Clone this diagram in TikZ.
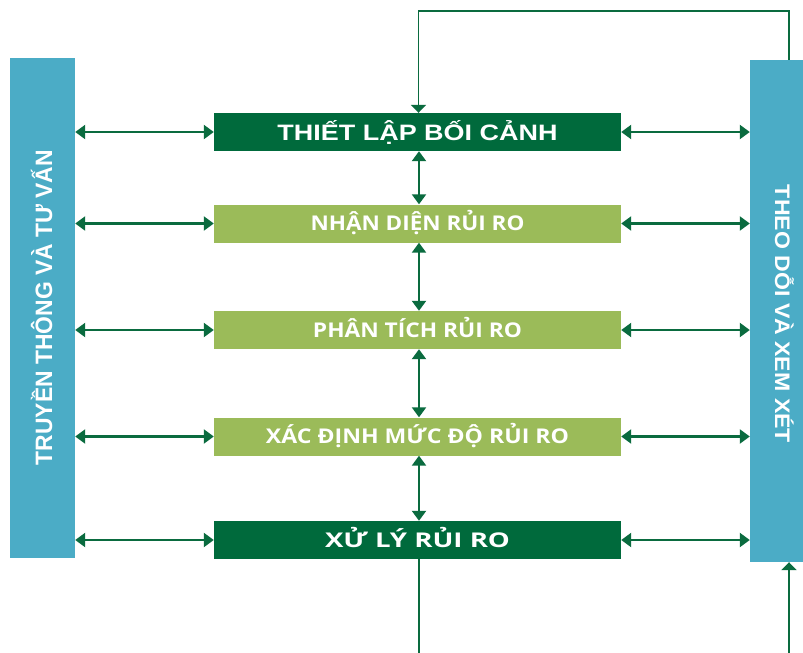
\documentclass[tikz,border=0pt]{standalone}
\usepackage{fontspec}
\setmainfont{Liberation Sans}
\newfontfamily\opsans{Open Sans}
\usetikzlibrary{arrows.meta}
\definecolor{dkgreen}{HTML}{006A3C}
\definecolor{ltgreen}{HTML}{9BBB59}
\definecolor{barblue}{HTML}{4BACC6}
\definecolor{arrgreen}{HTML}{0A6B3F}
\tikzset{
  procbox/.style={rectangle, minimum width=407pt, minimum height=38pt, inner sep=0pt,
    text=white, text height=14.5pt, text depth=0pt},
  darkbox/.style={procbox, fill=dkgreen},
  lightbox/.style={procbox, fill=ltgreen},
  sidebar/.style={rectangle, fill=barblue, inner sep=0pt},
  bartext/.style={inner sep=0pt, text=white, text depth=0pt},
  dbl/.style={arrgreen, line width=2.2pt, {Triangle[width=14pt,length=10pt]}-{Triangle[width=14pt,length=10pt]}},
  fb/.style={arrgreen, line width=1.8pt},
  fbarrow/.style={fb, -{Triangle[width=15pt,length=8pt]}}
}
\newcommand{\boxtxt}[2]{\resizebox{#1}{\height}{\opsans\fontsize{20.3}{24}\selectfont\bfseries #2}}
\begin{document}
\begin{tikzpicture}[x=1pt,y=-1pt]
\clip (0,0) rectangle (803,653);
\fill[white] (0,0) rectangle (803,653);
% side bars
\node[sidebar, minimum width=65pt, minimum height=500pt] (lbar) at (42.5,308) {};
\node[sidebar, minimum width=78pt, minimum height=502pt] (rbar) at (789,311) {};
\node[bartext, rotate=90, text height=17pt] (ltext) at (43.5,307.5)
  {\resizebox{315pt}{\height}{\fontsize{23.7}{26}\selectfont\bfseries TRUYỀN THÔNG VÀ TƯ VẤN}};
\node[bartext, rotate=-90, text height=15pt] (rtext) at (782.5,314)
  {\resizebox{258pt}{\height}{\fontsize{21}{24}\selectfont\bfseries THEO DỖI VÀ XEM XÉT}};
% process boxes
\node[darkbox, text height=16pt] (b1) at (417.5,132)
  {\resizebox{280pt}{\height}{\fontsize{22.3}{25}\selectfont\bfseries THIẾT LẬP BỐI CẢNH}};
\node[lightbox] (b2) at (417.5,223.5) {\boxtxt{214pt}{NHẬN DIỆN RỦI RO}};
\node[lightbox] (b3) at (417.5,330) {\boxtxt{209pt}{PHÂN TÍCH RỦI RO}};
\node[lightbox] (b4) at (417.5,436.5) {\boxtxt{303pt}{XÁC ĐỊNH MỨC ĐỘ RỦI RO}};
\node[darkbox] (b5) at (417.5,540) {\boxtxt{185pt}{XỬ LÝ RỦI RO}};
% horizontal arrows
\foreach \b in {b1,b2,b3,b4,b5}{
  \draw[dbl] (lbar.east |- \b.west) -- (\b.west);
  \draw[dbl] (\b.east) -- (rbar.west |- \b.east);
}
% vertical arrows
\draw[dbl] ([xshift=1.5pt]b1.south) -- ([xshift=1.5pt]b2.north);
\draw[dbl] ([xshift=1.5pt]b2.south) -- ([xshift=1.5pt]b3.north);
\draw[dbl] ([xshift=1.5pt]b3.south) -- ([xshift=1.5pt]b4.north);
\draw[dbl] ([xshift=1.5pt]b4.south) -- ([xshift=1.5pt]b5.north);
% feedback loop
\coordinate (fbR) at (789,11);
\coordinate (fbL) at (418.5,11);
\draw[fbarrow] (rbar.north) -- (fbR) -- (fbL) -- (fbL |- b1.north);
\coordinate (botL) at (419,660);
\coordinate (botR) at (789,660);
\draw[fb] (b5.south -| botL) -- (botL);
\draw[fbarrow] (botR) -- (rbar.south);
\end{tikzpicture}
\end{document}
